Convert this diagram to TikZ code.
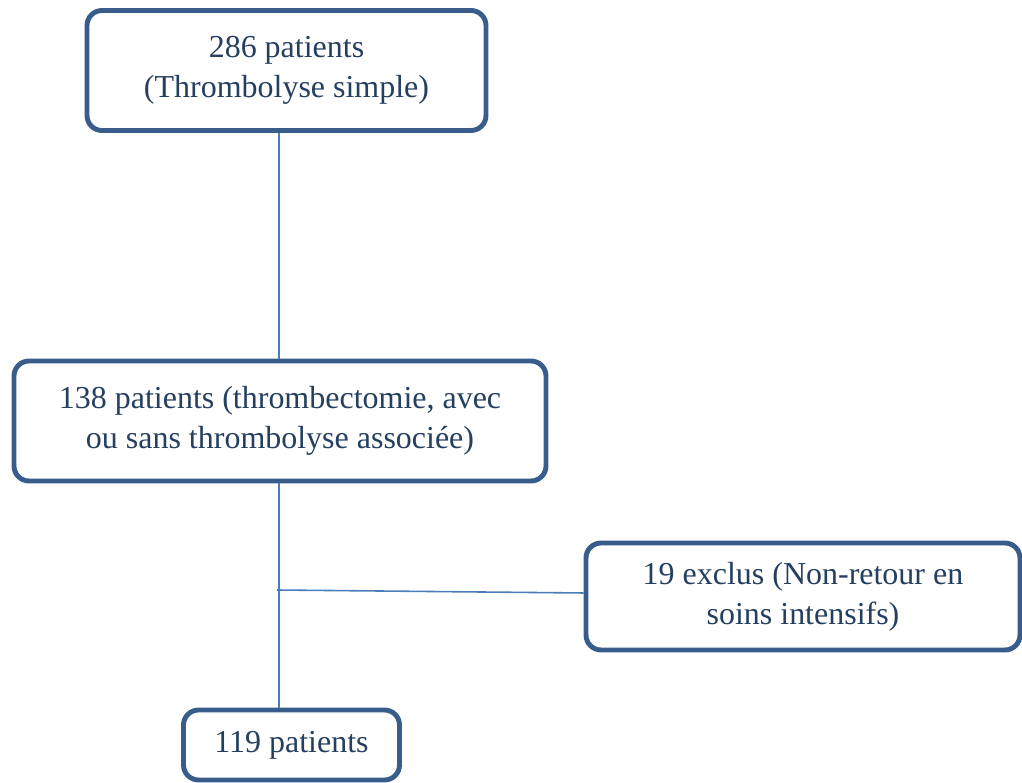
\documentclass[tikz,border=0pt]{standalone}
\usepackage{fontspec}
\setmainfont{Liberation Serif}
\usepackage{tikz}
\usetikzlibrary{positioning,calc}
\usepackage{xcolor}
\definecolor{frame}{HTML}{385D8A}
\definecolor{link}{HTML}{4A7EBB}
\definecolor{ink}{HTML}{243F60}

\begin{document}
\begin{tikzpicture}[x=0.02cm, y=-0.02cm,
    box/.style={draw=frame, line width=2.8pt, rounded corners=0.3cm, fill=white,
      text=ink, align=center, inner sep=0pt,
      font=\fontsize{18.2pt}{22.6pt}\selectfont},
    link/.style={draw=link, line width=0.9pt}]
    \useasboundingbox (0,0) rectangle (1022,783);
    \node[box, minimum width=399*0.02cm, minimum height=120*0.02cm] (start) at (286.5,70.5)
      {286 patients\\(Thrombolyse simple)};
    \node[box, minimum width=532*0.02cm, minimum height=120*0.02cm] (thromb) at (280,421)
      {138 patients (thrombectomie, avec\\ou sans thrombolyse associée)};
    \node[box, minimum width=434*0.02cm, minimum height=107*0.02cm] (excl) at (803,596.5)
      {19 exclus (Non-retour en\\soins intensifs)};
    \node[box, minimum width=216*0.02cm, minimum height=70*0.02cm] (final) at (291.5,745)
      {119 patients};
    \coordinate (split) at (277,590);
    % trunk and side branch
    \draw[link] (start.south -| 279,0) -- (thromb.north -| 279,0);
    \draw[link] (thromb.south -| 279,0) -- (final.north -| 279,0);
    \draw[link] (split) -- ([yshift=0.07cm]excl.west);
  \end{tikzpicture}
\end{document}
